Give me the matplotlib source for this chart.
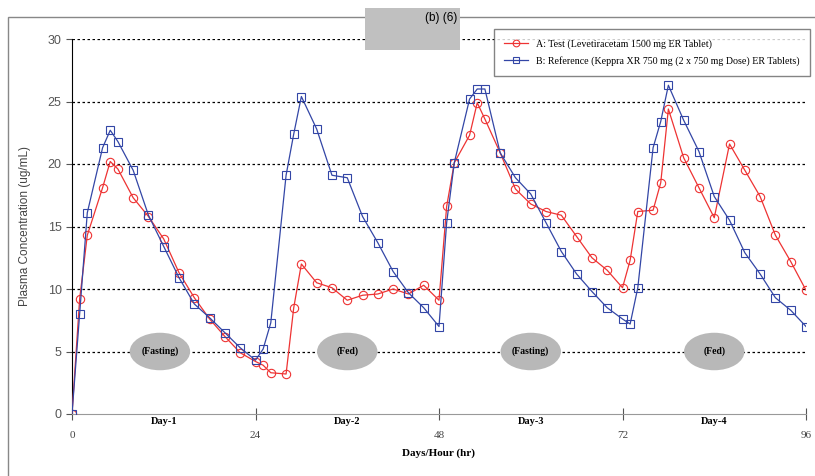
import numpy as np
import matplotlib.pyplot as plt
from matplotlib.patches import Ellipse, Rectangle

horas = [0, 1, 2, 4, 5, 6, 8, 10, 12, 14, 16, 18, 20, 22, 24, 25, 26, 28, 29, 30,
         32, 34, 36, 38, 40, 42, 44, 46, 48, 49, 50, 52, 53, 54, 56, 58, 60, 62, 64,
         66, 68, 70, 72, 73, 74, 76, 77, 78, 80, 82, 84, 86, 88, 90, 92, 94, 96]

prueba = [0, 9.2, 14.3, 18.1, 20.2, 19.6, 17.3, 15.8, 14.0, 11.3, 9.3, 7.6, 6.2, 4.9,
          4.2, 3.9, 3.3, 3.2, 8.5, 12.0, 10.5, 10.1, 9.1, 9.5, 9.6, 10.0, 9.6, 10.3,
          9.1, 16.6, 20.1, 22.3, 24.9, 23.6, 20.9, 18.0, 16.8, 16.2, 15.9, 14.2, 12.5,
          11.5, 10.1, 12.3, 16.2, 16.3, 18.5, 24.4, 20.5, 18.1, 15.7, 21.6, 19.5, 17.4,
          14.3, 12.2, 9.9]

referencia = [0, 8.0, 16.1, 21.3, 22.7, 21.8, 19.5, 15.9, 13.4, 10.9, 8.8, 7.7, 6.5,
              5.3, 4.3, 5.2, 7.3, 19.1, 22.4, 25.4, 22.8, 19.1, 18.9, 15.8, 13.7, 11.4,
              9.7, 8.5, 7.0, 15.3, 20.1, 25.2, 26.0, 26.0, 20.9, 18.9, 17.6, 15.3, 13.0,
              11.2, 9.8, 8.5, 7.6, 7.2, 10.1, 21.3, 23.4, 26.3, 23.5, 21.0, 17.4, 15.5,
              12.9, 11.2, 9.3, 8.3, 7.0]

dias = ['Day-1', 'Day-2', 'Day-3', 'Day-4']
centrosDias = [12, 36, 60, 84]
comidas = ['(Fasting)', '(Fed)', '(Fasting)', '(Fed)']
centrosComidas = [11.5, 36, 60, 84]

fig = plt.figure(figsize=(8.15, 4.76), dpi=100)

# marco exterior y recuadro gris
fig.patches.append(Rectangle((8/815, -0.01), 1.0, 1 - 17/476 + 0.01, transform=fig.transFigure,
                             fill=False, edgecolor='#888888', linewidth=1.0))
fig.patches.append(Rectangle((365/815, 1 - 50/476), 95/815, 42/476, transform=fig.transFigure,
                             facecolor='#c0c0c0', edgecolor='none'))
fig.text(457/815, 1 - 18/476, '(b) (6)', ha='right', va='center', fontsize=8.5,
         family='Liberation Sans')

ax = fig.add_axes([72/815, 1 - 414/476, 734/815, 375/476])

for y in range(5, 31, 5):
    ax.axhline(y, color='black', linestyle=(0, (2, 2)), linewidth=0.9, zorder=1)

for c, t in zip(centrosComidas, comidas):
    ax.add_patch(Ellipse((c, 5), 7.9, 3.0, facecolor='#b8b8b8', edgecolor='none', zorder=2))
    ax.text(c, 5, t, ha='center', va='center', fontsize=7, fontweight='bold',
            family='Liberation Serif', zorder=3)

ax.plot(horas, prueba, color='#ee3333', linewidth=0.9, marker='o', markersize=6,
        markerfacecolor='none', markeredgewidth=0.8,
        label='A: Test (Levetiracetam 1500 mg ER Tablet)', zorder=4)
ax.plot(horas, referencia, color='#3346a6', linewidth=0.9, marker='s', markersize=6,
        markerfacecolor='none', markeredgewidth=0.8,
        label='B: Reference (Keppra XR 750 mg (2 x 750 mg Dose) ER Tablets)', zorder=4)

ax.set_xlim(0, 96)
ax.set_ylim(0, 30)
ax.set_xticks([0, 24, 48, 72, 96])
ax.set_yticks(range(0, 31, 5))
ax.spines['top'].set_visible(False)
ax.spines['right'].set_visible(False)
ax.spines['bottom'].set_color('#999999')
ax.spines['left'].set_color('black')
ax.tick_params(axis='x', direction='inout', length=8, color='#555555', pad=8,
               labelsize=8, labelcolor='#444444')
ax.tick_params(axis='y', direction='out', length=4, color='#555555',
               labelsize=9, labelcolor='#555555')
for lab in ax.get_xticklabels():
    lab.set_family('Liberation Serif')
for lab in ax.get_yticklabels():
    lab.set_family('Liberation Sans')

for c, d in zip(centrosDias, dias):
    ax.text(c, -0.25, d, ha='center', va='top', fontsize=7.5, fontweight='bold',
            family='Liberation Serif')

ax.set_xlabel('Days/Hour (hr)', fontsize=8, fontweight='bold', family='Liberation Serif',
              labelpad=6)
ax.set_ylabel('Plasma Concentration (ug/mL)', fontsize=8.5, family='Liberation Sans',
              color='#444444', labelpad=12)

leg = ax.legend(loc='upper right', bbox_to_anchor=(1.012, 1.04),
                prop={'family': 'Liberation Serif', 'size': 7.2}, frameon=True,
                fancybox=False, borderpad=1.0, labelspacing=0.7, handlelength=2.4,
                markerscale=0.8)
leg.get_frame().set_edgecolor('#666666')
leg.get_frame().set_linewidth(1.0)

fig.savefig('out.png', dpi=100)
